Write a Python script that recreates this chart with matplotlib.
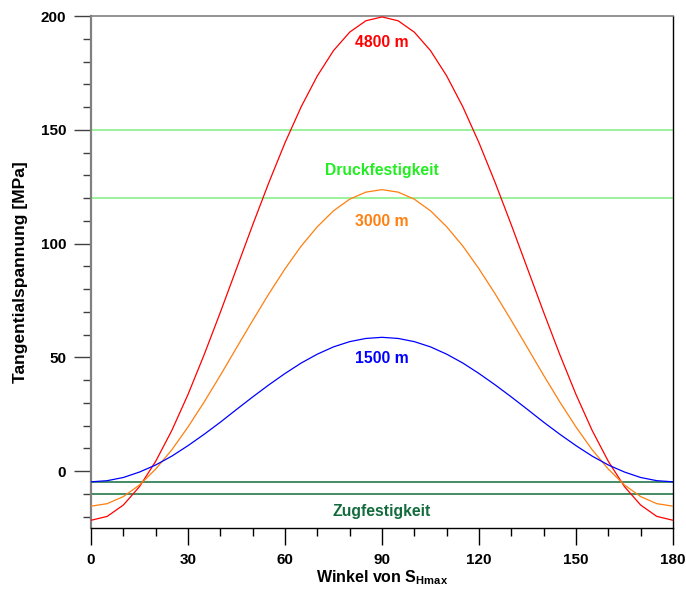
import matplotlib
matplotlib.use("Agg")
import matplotlib.pyplot as plt
from matplotlib.ticker import MultipleLocator

plt.rcParams.update({
    "font.family": ["Liberation Sans", "DejaVu Sans"],
    "font.weight": "bold",
    "mathtext.fontset": "custom",
    "mathtext.rm": "Liberation Sans:bold",
    "mathtext.bf": "Liberation Sans:bold",
})

RED, ORANGE, BLUE = "#ff0000", "#ff7f0f", "#0000ff"
LGREEN, GREEN_TXT, DGREEN = "#80f080", "#22ee22", "#126b3c"

angle = [0, 5, 10, 15, 20, 25, 30, 35, 40, 45, 50, 55, 60, 65, 70, 75, 80, 85, 90,
         95, 100, 105, 110, 115, 120, 125, 130, 135, 140, 145, 150, 155, 160, 165,
         170, 175, 180]
s4800 = [-21.6, -19.9, -14.9, -6.8, 4.3, 17.9, 33.7, 51.2, 69.8, 89.0, 108.2,
         126.8, 144.3, 160.1, 173.7, 184.8, 192.9, 197.9, 199.6,
         197.9, 192.9, 184.8, 173.7, 160.1, 144.3, 126.8, 108.2, 89.0, 69.8,
         51.2, 33.7, 17.9, 4.3, -6.8, -14.9, -19.9, -21.6]
s3000 = [-15.4, -14.3, -11.2, -6.1, 0.9, 9.4, 19.4, 30.4, 42.1, 54.2, 66.2,
         77.9, 88.9, 98.9, 107.4, 114.4, 119.5, 122.6, 123.7,
         122.6, 119.5, 114.4, 107.4, 98.9, 88.9, 77.9, 66.2, 54.2, 42.1,
         30.4, 19.4, 9.4, 0.9, -6.1, -11.2, -14.3, -15.4]
s1500 = [-4.7, -4.2, -2.8, -0.4, 2.7, 6.6, 11.2, 16.2, 21.5, 27.1, 32.6,
         37.9, 42.9, 47.5, 51.4, 54.6, 56.9, 58.3, 58.8,
         58.3, 56.9, 54.6, 51.4, 47.5, 42.9, 37.9, 32.6, 27.1, 21.5,
         16.2, 11.2, 6.6, 2.7, -0.4, -2.8, -4.2, -4.7]
druck = [150, 120]   # Druckfestigkeit
zug = [-5, -10]      # Zugfestigkeit

fig = plt.figure(figsize=(6.86, 5.93), dpi=100)
ax = fig.add_axes([0.1327, 0.1096, 0.8483, 0.8634])

for y in druck:
    ax.axhline(y, color=LGREEN, lw=1.1, zorder=1)
for y in zug:
    ax.axhline(y, color=DGREEN, lw=1.1, zorder=1)

ax.plot(angle, s4800, color=RED, lw=0.9, zorder=3)
ax.plot(angle, s3000, color=ORANGE, lw=0.9, zorder=3)
ax.plot(angle, s1500, color=BLUE, lw=0.9, zorder=3)

kw = dict(ha="center", va="center", fontsize=11.3, weight="bold")
ax.text(90, 188.5, "4800 m", color=RED, **kw)
ax.text(90, 132, "Druckfestigkeit", color=GREEN_TXT, **kw)
ax.text(90, 109.5, "3000 m", color=ORANGE, **kw)
ax.text(90, 49.5, "1500 m", color=BLUE, **kw)
ax.text(90, -17.8, "Zugfestigkeit", color=DGREEN, **kw)

ax.set_xlim(0, 180)
ax.set_ylim(-25, 200)
ax.xaxis.set_major_locator(MultipleLocator(30))
ax.xaxis.set_minor_locator(MultipleLocator(10))
ax.yaxis.set_major_locator(MultipleLocator(50))
ax.yaxis.set_minor_locator(MultipleLocator(10))
ax.tick_params(which="major", length=12, width=1.0, labelsize=11, pad=6)
ax.tick_params(which="minor", length=6, width=1.0)
ax.tick_params(axis="y", which="both", color="#404040")
for lab in ax.get_xticklabels() + ax.get_yticklabels():
    lab.set_fontweight("bold")

ax.spines["left"].set_color("#808080")
ax.spines["left"].set_linewidth(1.6)
ax.spines["top"].set_color("#808080")
ax.spines["top"].set_linewidth(1.2)
ax.spines["bottom"].set_linewidth(1.0)
ax.spines["right"].set_linewidth(1.0)

ax.set_xlabel(r"Winkel von S$_\mathregular{Hmax}$", fontsize=11.5, weight="bold",
              labelpad=1)
ax.set_ylabel("Tangentialspannung [MPa]", fontsize=12.5, weight="bold", labelpad=9)

fig.savefig("out.png", dpi=100, facecolor="white")
